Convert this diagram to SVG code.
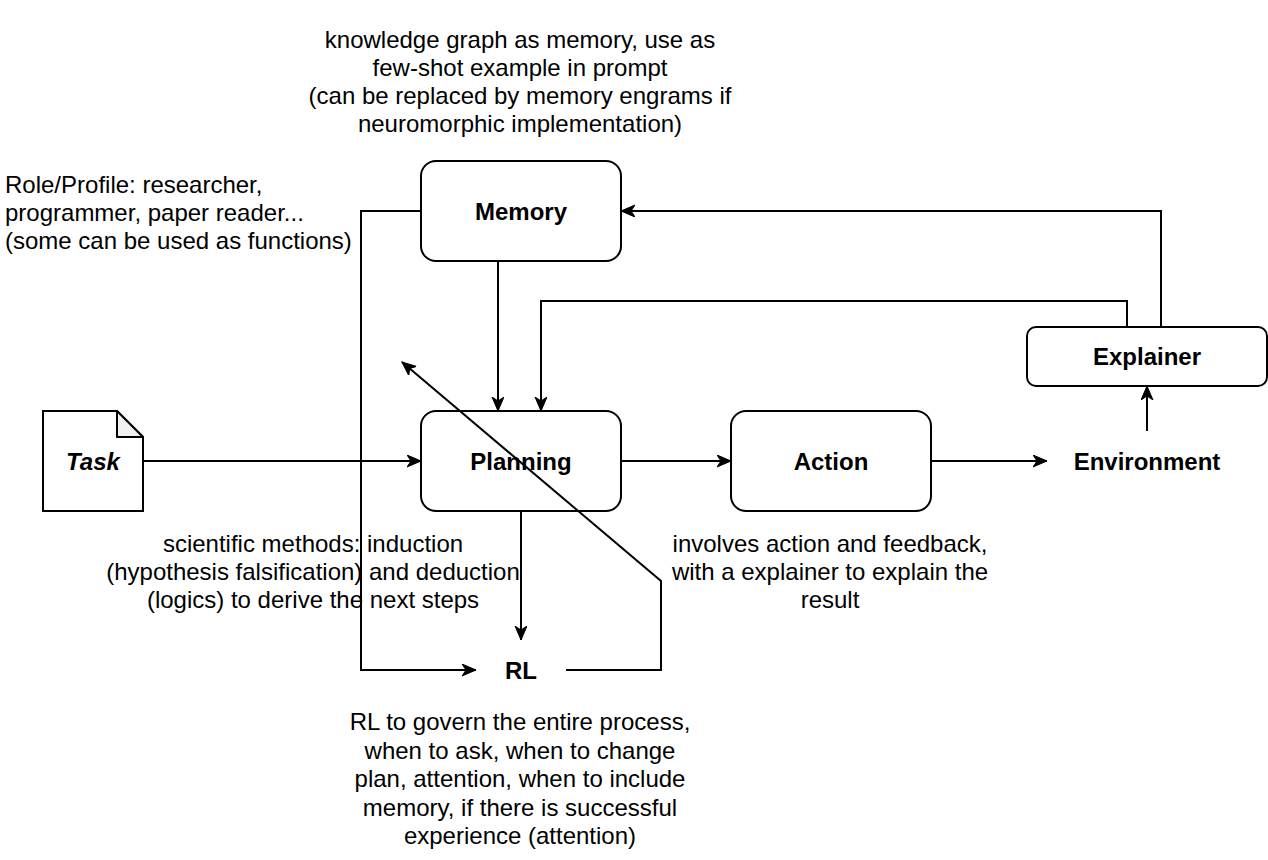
<svg xmlns="http://www.w3.org/2000/svg" width="1268" height="860" viewBox="0 0 1268 860">
  <style>
    .node { fill: #ffffff; stroke: #000000; stroke-width: 2; }
    .lbl { font-family: "Liberation Sans", Arial, sans-serif; font-size: 24px; font-weight: bold; fill: #000; text-anchor: middle; dominant-baseline: central; }
    .txt { font-family: "Liberation Sans", Arial, sans-serif; font-size: 24px; fill: #000; }
    .c { text-anchor: middle; }
    .edge { fill: none; stroke: #000000; stroke-width: 2; }
  </style>
  <defs>
    <marker id="arr" markerUnits="userSpaceOnUse" markerWidth="16" markerHeight="14" refX="14" refY="6" orient="auto" viewBox="0 0 16 14">
      <path d="M0,0 L14,6 L0,12 L4,6 z" fill="#000" stroke="#000" stroke-width="1"/>
    </marker>
  </defs>
  <rect width="1268" height="860" fill="#ffffff"/>

  <g id="task">
    <path class="node" d="M43,411 L117,411 L143,437 L143,511 L43,511 Z"/>
    <path d="M117,411 L117,437 L143,437 Z" fill="#f0f0f0" stroke="#000" stroke-width="2" stroke-linejoin="round"/>
    <text class="lbl" x="93" y="461" font-style="italic">Task</text>
  </g>

  <g id="memory">
    <rect class="node" x="421" y="161" width="200" height="100" rx="15" ry="15"/>
    <text class="lbl" x="521" y="211">Memory</text>
  </g>

  <g id="planning">
    <rect class="node" x="421" y="411" width="200" height="100" rx="15" ry="15"/>
    <text class="lbl" x="521" y="461">Planning</text>
  </g>

  <g id="action">
    <rect class="node" x="731" y="411" width="200" height="100" rx="15" ry="15"/>
    <text class="lbl" x="831" y="461">Action</text>
  </g>

  <g id="explainer">
    <rect class="node" x="1027" y="327" width="240" height="59" rx="9" ry="9"/>
    <text class="lbl" x="1147" y="356">Explainer</text>
  </g>

  <g id="environment">
    <text class="lbl" x="1147" y="461">Environment</text>
  </g>

  <g id="rl">
    <text class="lbl" x="521" y="670">RL</text>
  </g>

  <g id="note-memory">
    <text class="txt c" x="520" y="48">knowledge graph as memory, use as</text>
    <text class="txt c" x="520" y="76">few-shot example in prompt</text>
    <text class="txt c" x="520" y="104">(can be replaced by memory engrams if</text>
    <text class="txt c" x="520" y="132">neuromorphic implementation)</text>
  </g>

  <g id="note-role">
    <text class="txt" x="5" y="193">Role/Profile: researcher,</text>
    <text class="txt" x="5" y="221">programmer, paper reader...</text>
    <text class="txt" x="5" y="249">(some can be used as functions)</text>
  </g>

  <g id="note-planning">
    <text class="txt c" x="313" y="552">scientific methods: induction</text>
    <text class="txt c" x="313" y="580">(hypothesis falsification) and deduction</text>
    <text class="txt c" x="313" y="608">(logics) to derive the next steps</text>
  </g>

  <g id="note-action">
    <text class="txt c" x="830" y="552">involves action and feedback,</text>
    <text class="txt c" x="830" y="580">with a explainer to explain the</text>
    <text class="txt c" x="830" y="608">result</text>
  </g>

  <g id="note-rl">
    <text class="txt c" x="520" y="730">RL to govern the entire process,</text>
    <text class="txt c" x="520" y="759">when to ask, when to change</text>
    <text class="txt c" x="520" y="787">plan, attention, when to include</text>
    <text class="txt c" x="520" y="816">memory, if there is successful</text>
    <text class="txt c" x="520" y="844">experience (attention)</text>
  </g>

  <g id="connectors">
    <path class="edge" d="M143,461 L421,461" marker-end="url(#arr)"/>
    <path class="edge" d="M621,461 L731,461" marker-end="url(#arr)"/>
    <path class="edge" d="M931,461 L1047,461" marker-end="url(#arr)"/>
    <path class="edge" d="M1147,431 L1147,386" marker-end="url(#arr)"/>
    <path class="edge" d="M1161,327 L1161,211 L621,211" marker-end="url(#arr)"/>
    <path class="edge" d="M1127,327 L1127,301 L541,301 L541,411" marker-end="url(#arr)"/>
    <path class="edge" d="M498,261 L498,411" marker-end="url(#arr)"/>
    <path class="edge" d="M521,511 L521,640" marker-end="url(#arr)"/>
    <path class="edge" d="M421,211 L361,211 L361,670 L476,670" marker-end="url(#arr)"/>
    <path class="edge" d="M566,670 L661,670 L661,581 L402,362" marker-end="url(#arr)"/>
  </g>
</svg>
